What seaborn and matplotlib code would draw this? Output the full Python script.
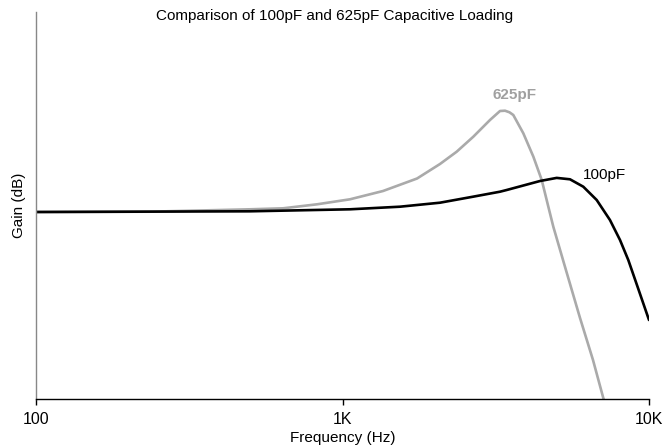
import numpy as np
import pandas as pd
import matplotlib
matplotlib.use("Agg")
import matplotlib.pyplot as plt
import seaborn as sns

# frequency (Hz) and gain (dB, relative to the flat band)
freq_625 = [100, 235, 499, 640, 826, 1058, 1356, 1751, 2080, 2358, 2672, 3028,
            3265, 3390, 3506, 3608, 3890, 4195, 4467, 4694, 4873, 5319, 5956,
            6566, 7079, 7238]
gain_625 = [0.0, 0.03, 0.27, 0.37, 0.77, 1.27, 2.1, 3.35, 4.8, 6.03, 7.53, 9.2,
            10.1, 10.13, 9.97, 9.7, 7.87, 5.53, 3.2, 0.53, -1.47, -5.47, -10.6,
            -14.8, -18.5, -19.5]

freq_100 = [100, 499, 1058, 1540, 2080, 2666, 3265, 3433, 4411, 4998, 5524,
            6104, 6751, 7458, 8043, 8559, 9206, 10000]
gain_100 = [0.0, 0.07, 0.27, 0.53, 0.93, 1.53, 2.03, 2.2, 3.1, 3.41, 3.27,
            2.53, 1.2, -0.8, -2.8, -4.8, -7.6, -10.8]

xticks = [100, 1000, 10000]
xtick_labels = ["100", "1K", "10K"]

df = pd.concat([
    pd.DataFrame({"freq": freq_625, "gain": gain_625, "load": "625pF"}),
    pd.DataFrame({"freq": freq_100, "gain": gain_100, "load": "100pF"}),
])

sns.set_style("white")
plt.rcParams["font.family"] = ["Liberation Sans", "DejaVu Sans"]
plt.rcParams["text.color"] = "black"
plt.rcParams["axes.labelcolor"] = "black"
plt.rcParams["xtick.color"] = "black"

fig = plt.figure(figsize=(6.64, 4.48), dpi=100)
ax = fig.add_axes([36 / 664, 49 / 448, 613 / 664, 387 / 448])

sns.lineplot(data=df, x="freq", y="gain", hue="load",
             palette={"625pF": "#aaaaaa", "100pF": "#000000"},
             hue_order=["625pF", "100pF"], linewidth=1.9, legend=False,
             sort=False, estimator=None, ax=ax,
             solid_joinstyle="round", solid_capstyle="round")

ax.set_xscale("log")
ax.set_xlim(100, 10000)
ax.set_ylim(-18.7, 20)
ax.set_xticks(xticks)
ax.set_xticklabels(xtick_labels, fontsize=11.5)
ax.xaxis.set_minor_locator(matplotlib.ticker.NullLocator())
ax.set_yticks([])
ax.tick_params(axis="x", direction="out", length=4, width=1, color="black",
               labelcolor="black", bottom=True, pad=5)

sns.despine(ax=ax)
ax.spines["left"].set_color("#888888")
ax.spines["left"].set_linewidth(1.0)
ax.spines["bottom"].set_color("black")
ax.spines["bottom"].set_linewidth(1.0)

ax.set_xlabel("Frequency (Hz)", fontsize=11, labelpad=3)
ax.set_ylabel("Gain (dB)", fontsize=11, labelpad=7)

ax.text(3654, 11.7, "625pF", color="#a0a0a0", fontsize=11, ha="center",
        va="center", fontweight="bold")
ax.text(6090, 3.7, "100pF", color="black", fontsize=11, ha="left",
        va="center")

fig.text(335 / 664, 1 - 16 / 448, "Comparison of 100pF and 625pF Capacitive Loading",
         ha="center", va="center", fontsize=11)

fig.savefig("out.png", dpi=100)
